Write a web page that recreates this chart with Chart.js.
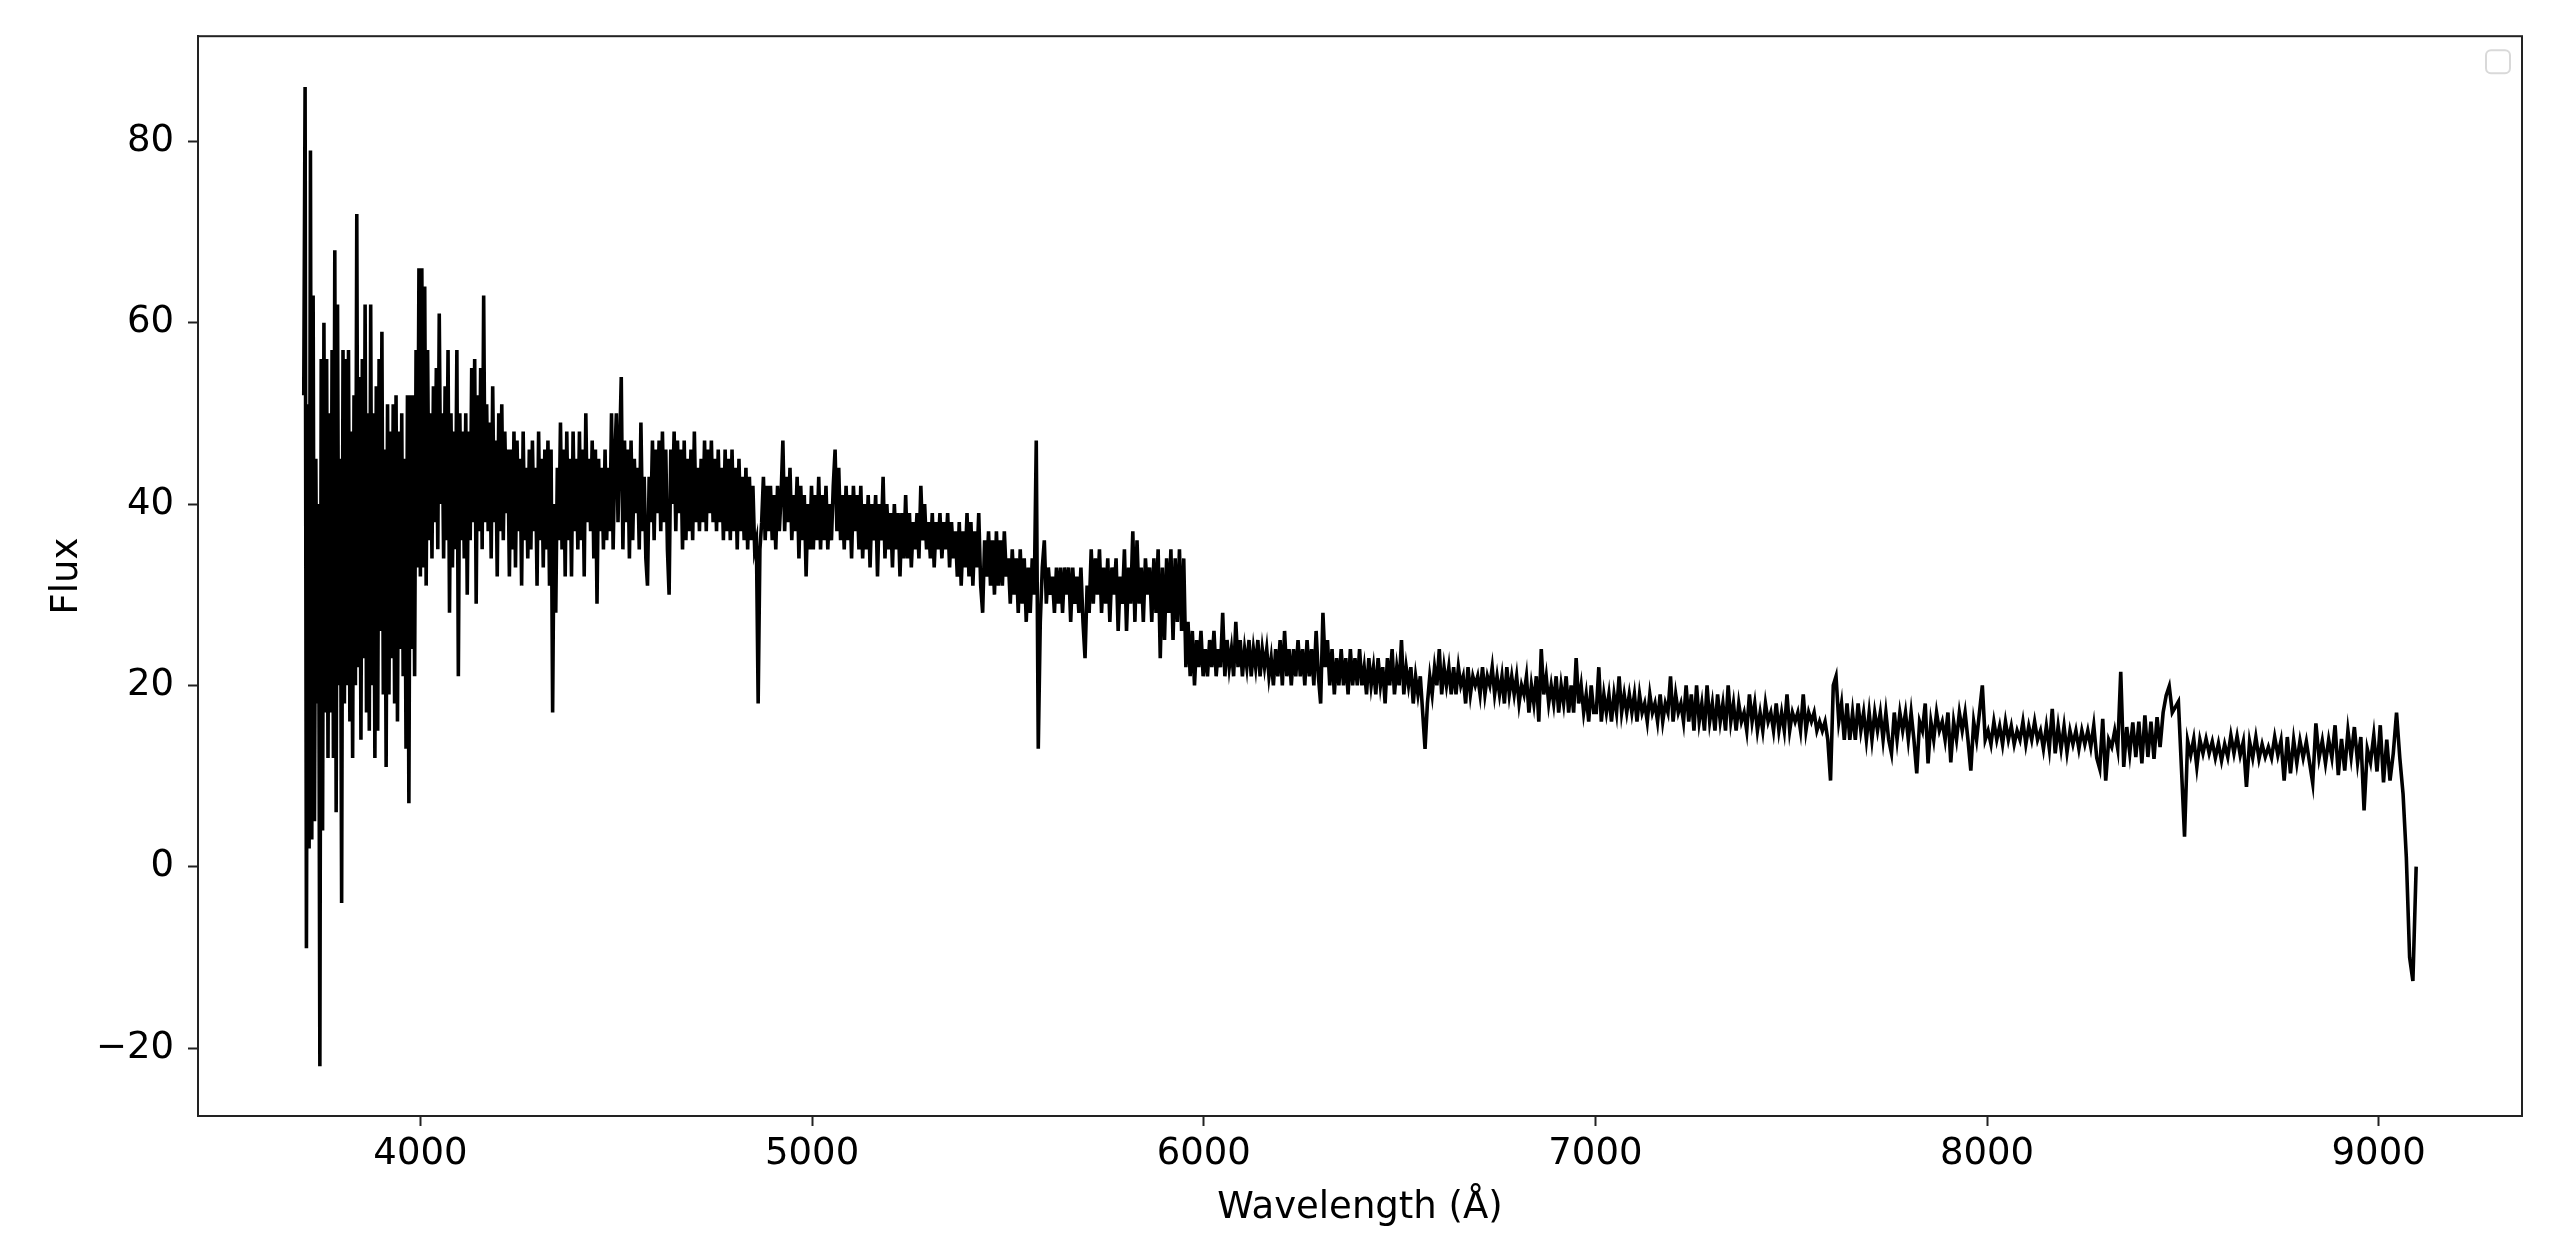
<!DOCTYPE html>
<html>
<head>
<meta charset="utf-8">
<title>Spectrum</title>
<script src="https://cdn.jsdelivr.net/npm/chart.js@4.4.0/dist/chart.umd.min.js"></script>
<style>
  html, body { margin: 0; padding: 0; background: #fff; }
  #wrap { width: 2550px; height: 1234px; }
</style>
</head>
<body>
<div id="wrap"><canvas id="spectrum" width="2550" height="1234"></canvas></div>
<script>
// log-lambda grid of the spectrum (start + step, like coeff0 / coeff1)
const LOGLAM_START = 3.56844;
const LOGLAM_STEP = 0.0004;

// flux, one array per stretch of wavelength
const flux3700 = [
  52, 86, -9, 51, 2, 79, 3, 63, 5, 45,
  18, 40, -22, 56, 4, 60, 17, 56, 12, 50,
  17, 57, 12, 68, 6, 62, 20, 45, -4, 57,
  18, 56, 20, 57, 16, 48, 12, 52, 20, 72,
  22, 54, 14, 56, 23, 62, 17, 50, 15, 62,
  20, 50, 12, 53, 15, 56, 26, 59, 19, 46,
  11, 51, 19, 48, 23, 51, 18, 52, 16, 48,
  24, 50, 21, 45, 13, 52, 7, 52, 24, 52,
  21, 57, 33, 66];
const flux4000 = [
  32, 66, 33, 64, 31, 57, 36, 50, 34, 53,
  38, 55, 35, 61, 40, 50, 34, 53, 36, 57,
  28, 50, 33, 48, 35, 57, 21, 50, 36, 48,
  34, 50, 30, 48, 36, 55, 38, 56, 29, 52,
  37, 55, 35, 63, 38, 51, 37, 49, 34, 53,
  38, 47, 32, 50, 37, 51, 36, 48, 39, 46,
  32, 46, 35, 48, 33, 47, 37, 45, 31, 48,
  36, 44, 34, 46, 35, 47, 37, 44, 31, 48,
  36, 45, 33, 46, 35, 47, 31, 46, 17, 40,
  28, 44, 36, 49, 35, 46, 32, 48, 36, 45,
  32, 48, 37, 45, 35, 48, 36, 46, 32, 50,
  38, 45, 37, 47, 34, 46, 29, 45, 37, 44,
  35, 46, 36, 44, 37, 50, 35, 45];
const flux4500 = [
  50, 38, 46, 54, 35, 47, 38, 46, 34, 47,
  36, 45, 39, 44, 35, 49, 37, 43, 34, 31,
  43, 38, 47, 36, 46, 39, 47, 37, 48, 38,
  46, 35, 30, 46, 40, 48, 37, 47, 39, 46,
  35, 47, 36, 45, 37, 46, 36, 48, 38, 44,
  37, 45, 38, 47, 37, 46, 39, 47, 38, 45,
  37, 46, 38, 44, 36, 46, 37, 45, 36, 46,
  37, 44, 35, 45, 37, 43, 36, 44, 35, 43,
  36, 42, 35, 36, 18, 35, 38, 43, 36, 42,
  37, 42, 36, 41, 35, 42, 37, 41, 47, 37,
  43, 38, 44, 36, 41, 37, 43, 34, 42, 36,
  41, 32, 40, 35];
const flux5000 = [
  42, 35, 41, 36, 43, 35, 41, 36, 42, 35,
  40, 36, 42, 46, 37, 44, 36, 41, 35, 42,
  36, 41, 34, 42, 37, 41, 35, 42, 34, 40,
  35, 41, 33, 40, 36, 41, 32, 40, 36, 43,
  34, 40, 35, 39, 33, 40, 35, 39, 32, 39,
  34, 41, 34, 39, 33, 38, 35, 39, 34, 42,
  36, 40, 35, 38, 34, 39, 33, 38, 35, 39,
  34, 38, 35, 39, 33, 38, 34, 37, 32, 38,
  31, 37, 33, 39, 32, 38, 31, 37, 33, 39,
  31, 28, 36, 32, 37, 31, 36, 30, 37, 31,
  36, 31, 37, 32];
const flux5500 = [
  34, 29, 35, 30, 34, 28, 35, 29, 34, 27,
  33, 28, 34, 30, 47, 13, 27, 33, 36, 29,
  33, 30, 32, 28, 33, 29, 33, 28, 33, 30,
  33, 27, 33, 29, 32, 28, 33, 27, 23, 31,
  28, 35, 29, 34, 30, 35, 28, 33, 29, 34,
  27, 33, 30, 34, 26, 32, 29, 35, 26, 33,
  29, 37, 27, 36, 29, 33, 27, 34, 30, 33,
  27, 34, 28, 35, 23, 33, 25, 34, 28, 35,
  25, 34, 27, 35, 26, 34, 22, 27, 21, 26,
  20, 25, 22, 26];
const flux6000 = [
  21, 24, 21, 25, 22, 26, 21, 24, 22, 28,
  21, 25, 22, 24, 21, 27, 22, 25, 21, 24,
  22, 25, 21, 24, 22, 25, 21, 24, 22, 24,
  21, 23, 20, 24, 21, 25, 20, 26, 21, 24,
  20, 24, 21, 25, 21, 24, 20, 25, 21, 24,
  20, 26, 21, 18, 28, 22, 25, 20, 24, 19,
  23, 20, 24, 20, 23, 19, 24, 20, 23, 20,
  24, 20, 22, 19, 23, 20, 22, 19, 23, 20,
  22, 18, 23, 20, 24, 19, 22, 20, 25, 19,
  22, 20, 22, 18, 21, 19, 21, 17, 13, 18,
  21, 19, 22, 20, 24, 19, 22, 20, 22, 19,
  22, 19, 22, 20, 21, 18, 22, 19, 21, 20,
  21, 19, 22, 19, 21, 20, 22, 19, 21, 19,
  21, 18, 22, 19, 21, 19, 21, 18, 20, 19,
  21, 17, 20, 18, 21, 16, 24, 19, 21, 18,
  20, 18, 21, 17, 20, 18, 21, 17, 20, 17,
  23, 18, 20, 17, 19, 16, 20, 17];
const flux7000 = [
  17, 22, 16, 19, 17, 19, 16, 19, 17, 21,
  17, 19, 17, 19, 17, 19, 16, 19, 17, 18,
  16, 19, 17, 18, 16, 19, 16, 18, 17, 21,
  16, 19, 17, 18, 16, 20, 16, 19, 15, 20,
  16, 18, 15, 20, 16, 18, 15, 19, 16, 18,
  15, 20, 16, 18, 15, 18, 16, 17, 15, 19,
  16, 18, 15, 17, 15, 18, 16, 17, 15, 18,
  15, 17, 15, 19, 15, 17, 16, 17, 15, 19,
  15, 17, 16, 17, 15, 16, 15, 16, 14, 9.5,
  20, 21, 16, 18, 14, 18, 14, 17, 14, 18,
  15, 17, 14, 17, 14, 17, 15, 17, 14, 17,
  14, 12.5, 17, 14, 17, 15, 17, 14, 17, 14,
  10.3, 16, 15, 18, 11.4, 16, 14, 17, 15, 16,
  14, 17, 11.5, 16, 14, 17, 15, 17, 14, 10.6,
  16, 14, 17, 20, 14];
const flux8000 = [
  15, 13.5, 16, 14, 15.5, 13.5, 16, 14, 15.5, 13.5,
  15, 14, 16, 13.5, 15.5, 14, 16, 14, 15, 13,
  15.5, 13, 17.4, 12.5, 15.5, 13, 15.5, 12.6, 15, 13.5,
  15, 13, 15, 13.5, 15, 13.2, 15.6, 12, 10.8, 16.3,
  9.5, 14, 13.2, 15, 13, 21.5, 11, 15.4, 12.5, 15.9,
  12.1, 16, 11.4, 16.7, 12.1, 16, 11.9, 16.5, 13.2, 17,
  18.9, 19.9, 17, 17.6, 18.2, 10.8, 3.3, 13.9, 12.3, 14.1,
  11, 14, 12.5, 14.1, 12.5, 13.8, 12, 13.6, 11.7, 13.5,
  12.1, 14.5, 12.5, 14.4, 12.3, 13.8, 8.8, 13.8, 12, 14.3,
  11.9, 13.5, 12.1, 13.2, 12, 14.3, 12.3, 13.9, 9.5, 14.3,
  10.3, 14, 11.4, 13.9, 12, 13.8, 11.5, 9.2, 15.8, 12,
  13.9, 11.4, 14, 12, 15.6, 10.1, 14.1, 10.6, 15, 12.1,
  15.4, 11.5, 14.3, 6.2, 13, 11.5, 14.5, 10.5, 15.6, 9.3,
  14, 9.5, 12.5, 17, 12, 8, 1, -10, -12.6, 0];

const xTicks = [4000, 5000, 6000, 7000, 8000, 9000];
const yTicks = [-20, 0, 20, 40, 60, 80];
const yTickLabels = ['\u221220', '0', '20', '40', '60', '80'];
const xRange = [3432, 9366];
const yRange = [-27.5, 91.6];

const flux = [].concat(flux3700, flux4000, flux4500, flux5000, flux5500, flux6000, flux7000, flux8000);
const spectrum = flux.map((f, i) => ({
  x: Math.pow(10, LOGLAM_START + LOGLAM_STEP * i),
  y: f,
}));

//////////////////////////////////////////////////////////////

// matplotlib style box round the axes, plus the empty legend frame
const framePlugin = {
  id: 'frame',
  afterDraw: (chart) => {
    const { ctx, chartArea: a } = chart;
    ctx.save();
    ctx.strokeStyle = '#222';
    ctx.lineWidth = 2;
    ctx.strokeRect(a.left, a.top, a.right - a.left, a.bottom - a.top);
    ctx.strokeStyle = '#d9d9d9';
    ctx.beginPath();
    ctx.roundRect(a.right - 36, a.top + 14, 24, 23, 5);
    ctx.stroke();
    ctx.restore();
  },
};

Chart.defaults.font.family = "'DejaVu Sans', sans-serif";
Chart.defaults.color = '#000';

const tickFont = { size: 37 };
const axisGrid = {
  display: true,
  drawOnChartArea: false,
  drawTicks: true,
  tickLength: 10,
  tickWidth: 2,
  tickColor: '#222',
};

const config = {
  type: 'line',
  data: {
    datasets: [
      {
        data: spectrum,
        borderColor: '#000',
        borderWidth: 3.6,
        pointRadius: 0,
        tension: 0,
        fill: false,
      },
    ],
  },
  options: {
    responsive: false,
    devicePixelRatio: 1,
    animation: false,
    events: [],
    layout: { padding: { left: 0, right: 28, top: 36, bottom: 0 } },
    plugins: {
      legend: { display: false },
      tooltip: { enabled: false },
    },
    scales: {
      x: {
        type: 'linear',
        min: xRange[0],
        max: xRange[1],
        grid: axisGrid,
        border: { display: true, color: '#222', width: 2 },
        afterBuildTicks: (scale) => {
          scale.ticks = xTicks.map((v) => ({ value: v }));
        },
        afterFit: (scale) => {
          scale.height = 118;
        },
        ticks: {
          font: tickFont,
          padding: 6,
          maxRotation: 0,
          autoSkip: false,
          callback: (value) => String(value),
        },
        title: {
          display: true,
          text: 'Wavelength (Å)',
          font: { size: 37, lineHeight: 1.2 },
          padding: { top: 0, bottom: 3 },
        },
      },
      y: {
        type: 'linear',
        min: yRange[0],
        max: yRange[1],
        grid: axisGrid,
        border: { display: true, color: '#222', width: 2 },
        afterBuildTicks: (scale) => {
          scale.ticks = yTicks.map((v) => ({ value: v }));
        },
        afterFit: (scale) => {
          scale.width = 198;
        },
        ticks: {
          font: tickFont,
          padding: 14,
          autoSkip: false,
          callback: (value, index) => yTickLabels[index],
        },
        title: {
          display: true,
          text: 'Flux',
          font: { size: 37, lineHeight: 1.2 },
          padding: { top: 45, bottom: 0 },
        },
      },
    },
  },
  plugins: [framePlugin],
};

new Chart(document.getElementById('spectrum').getContext('2d'), config);
</script>
</body>
</html>
